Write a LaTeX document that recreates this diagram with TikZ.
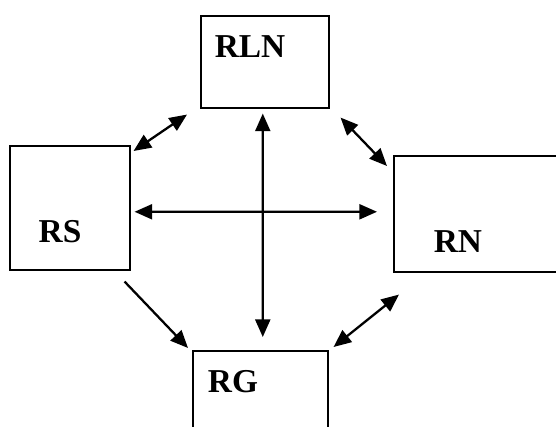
\documentclass[tikz,border=0pt]{standalone}
\usepackage{fontspec}
\setmainfont{Liberation Serif}
\usetikzlibrary{arrows.meta}

\begin{document}
\begin{tikzpicture}[x=0.02cm,y=-0.02cm,
	box/.style={shape=rectangle,draw=black,line width=0.9pt,anchor=north west,inner sep=0pt},
	lbl/.style={font=\fontsize{19}{22}\selectfont\bfseries},
	link/.style={line width=1.3pt,{Triangle[length=10pt,width=8.5pt]}-{Triangle[length=10pt,width=8.5pt]}},
	onelink/.style={line width=1.3pt,-{Triangle[length=10pt,width=8.5pt]}}]

	\useasboundingbox (0,0) rectangle (556,427);
	\clip (0,0) rectangle (556,427);

	\node[box,minimum width=2.56cm,minimum height=1.84cm] (rln) at (200,15)  {};
	\node[box,minimum width=2.40cm,minimum height=2.48cm] (rs)  at (9,145)   {};
	\node[box,minimum width=3.60cm,minimum height=2.32cm] (rn)  at (393,155) {};
	\node[box,minimum width=2.70cm,minimum height=2.40cm] (rg)  at (192,350) {};

	\node[lbl] (rlnlbl) at (250,47)  {RLN};
	\node[lbl] (rslbl)  at (60,232)  {RS};
	\node[lbl] (rnlbl)  at (458,242) {RN};
	\node[lbl] (rglbl)  at (233,382) {RG};

	\draw[link] ([shift={(3,6)}]rs.north east) -- ([shift={(-13,6)}]rln.south west);
	\draw[link] ([shift={(11,9)}]rln.south east) -- ([shift={(-6,11)}]rn.north west);
	\draw[link] ([shift={(4,4)}]rs.east) -- ([shift={(-16,-2)}]rn.west);
	\draw[link] ([shift={(-2,5)}]rln.south) -- ([shift={(2.5,-13)}]rg.north);
	\draw[onelink] ([shift={(-6,11)}]rs.south east) -- ([shift={(-4,-2)}]rg.north west);
	\draw[link] ([shift={(6,22)}]rn.south west) -- ([shift={(5,-3)}]rg.north east);

\end{tikzpicture}
\end{document}
